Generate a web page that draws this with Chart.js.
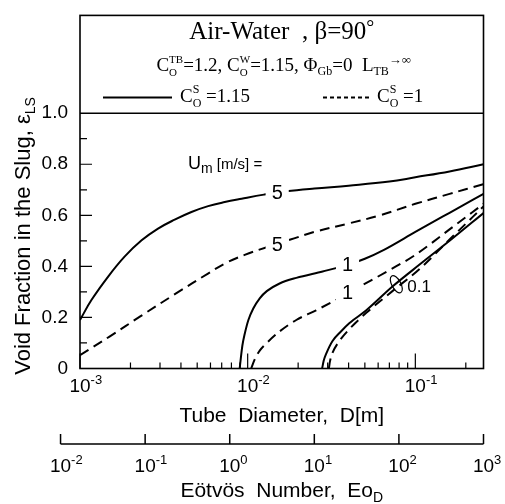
<!DOCTYPE html>
<html>
<head>
<meta charset="utf-8">
<script src="https://cdn.jsdelivr.net/npm/chart.js@4.4.0/dist/chart.umd.min.js"></script>
<style>
  html, body { margin: 0; padding: 0; background: #fff; }
</style>
</head>
<body>
<canvas id="voidChart" width="505" height="504"></canvas>
<script>
"use strict";

const SANS = '"Liberation Sans", Arial, sans-serif';
const SERIF = '"Liberation Serif", "Times New Roman", serif';
const ink = '#000';

// axis ranges: tube diameter D [m], Eötvös number, void fraction
const diamRange = [0.001, 0.255];
const eotvosRange = [0.01698, 1000];
const voidRange = [0, 1.383];
const voidTicks = [0, 0.2, 0.4, 0.6, 0.8, 1.0];
const diamDecades = [-3, -2, -1];
const eotvosDecades = [-2, -1, 0, 1, 2, 3];

// [D, eps_LS] ; solid C0S = 1.15, dashed C0S = 1
const um5Solid = [[0.001, 0.19], [0.00117, 0.268], [0.00148, 0.362], [0.00185, 0.439], [0.00233, 0.502],
  [0.00292, 0.548], [0.00367, 0.583], [0.00462, 0.613], [0.00581, 0.636], [0.0073, 0.652], [0.0092, 0.665],
  [0.0125, 0.681], [0.017, 0.694], [0.025, 0.705], [0.04, 0.716], [0.07, 0.732], [0.1, 0.749], [0.16, 0.772], [0.255, 0.80]];
const um5Dashed = [[0.001, 0.052], [0.0015, 0.125], [0.0023, 0.205], [0.0037, 0.292], [0.0058, 0.372],
  [0.0075, 0.415], [0.0096, 0.445], [0.013, 0.475], [0.018, 0.505], [0.025, 0.535], [0.04, 0.568],
  [0.06, 0.598], [0.1, 0.645], [0.16, 0.684], [0.255, 0.722]];
const um1Solid = [[0.00896, 0], [0.0091, 0.04], [0.0093, 0.09], [0.0096, 0.135], [0.0101, 0.19], [0.0108, 0.235],
  [0.0118, 0.275], [0.013, 0.303], [0.0155, 0.333], [0.0195, 0.355], [0.028, 0.38], [0.039, 0.405],
  [0.05, 0.43], [0.065, 0.465], [0.1, 0.535], [0.16, 0.61], [0.255, 0.684]];
const um1Dashed = [[0.0105, 0], [0.011, 0.035], [0.0118, 0.07], [0.013, 0.1], [0.0155, 0.145], [0.0195, 0.19],
  [0.0256, 0.228], [0.035, 0.275], [0.047, 0.322], [0.07, 0.385], [0.1, 0.445], [0.16, 0.545], [0.255, 0.645]];
const um01Solid = [[0.0278, 0], [0.0284, 0.03], [0.0295, 0.06], [0.032, 0.107], [0.036, 0.145], [0.0405, 0.178],
  [0.051, 0.228], [0.0733, 0.322], [0.106, 0.407], [0.16, 0.5], [0.255, 0.609]];
const um01Dashed = [[0.0305, 0], [0.031, 0.03], [0.032, 0.06], [0.035, 0.105], [0.0405, 0.155], [0.051, 0.218],
  [0.0733, 0.304], [0.106, 0.39], [0.16, 0.505], [0.255, 0.635]];

// Um labels sitting on the curves: [text, D, eps]
const curveLabels = [['5', 0.015, 0.69], ['5', 0.015, 0.485], ['1', 0.0394, 0.408], ['1', 0.0394, 0.298]];
const smallUmLabel = ['0.1', 0.077, 0.33];

// curves that start at eps = 0 use monotone splines, the others a plain tension spline
function series(points, dashed, fromZero) {
  return {
    data: points.map(([d, v]) => ({ x: d, y: v })),
    borderColor: ink,
    borderWidth: 2,
    borderDash: dashed ? [10, 6] : [],
    pointRadius: 0,
    cubicInterpolationMode: fromZero ? 'monotone' : 'default',
    tension: fromZero ? 0 : 0.4,
    fill: false
  };
}

function partWidth(ctx, p, fam) {
  ctx.font = `${p.s}px ${fam}`;
  if (p.t === undefined) {
    return Math.max(ctx.measureText(p.sub || '').width, ctx.measureText(p.sup || '').width);
  }
  return ctx.measureText(p.t).width;
}

// text made of runs with sub/superscripts
function drawRuns(ctx, parts, x, y, fam, align) {
  const total = parts.reduce((w, p) => w + partWidth(ctx, p, fam), 0);
  let cx = align === 'center' ? x - total / 2 : align === 'right' ? x - total : x;
  ctx.textAlign = 'left';
  ctx.textBaseline = 'alphabetic';
  parts.forEach(p => {
    const w = partWidth(ctx, p, fam);
    if (p.t !== undefined) ctx.fillText(p.t, cx, y + (p.dy || 0));
    if (p.sub) ctx.fillText(p.sub, cx, y + p.s * 0.4);
    if (p.sup) ctx.fillText(p.sup, cx, y - p.s * 0.75);
    cx += w;
  });
  return total;
}

function powerLabel(ctx, tickX, y, exp) {
  ctx.font = `19px ${SANS}`;
  const w10 = ctx.measureText('10').width;
  drawRuns(ctx, [{ t: '10', s: 19 }, { t: String(exp), s: 13, dy: -8 }], tickX - w10 / 2, y, SANS, 'left');
}

const decor = {
  id: 'decor',
  afterDatasetsDraw(chart) {
    const { ctx, chartArea: a, scales } = chart;
    const x = scales.x, y = scales.y, eo = scales.eo;
    ctx.save();
    ctx.fillStyle = ink;
    ctx.strokeStyle = ink;

    // curve labels cut into their lines
    ctx.font = `20px ${SANS}`;
    curveLabels.forEach(([t, d, v]) => {
      const px = x.getPixelForValue(d), py = y.getPixelForValue(v);
      const w = ctx.measureText(t).width;
      ctx.fillStyle = '#fff';
      ctx.fillRect(px - w / 2 - 6, py - 9, w + 12, 18);
      ctx.fillStyle = ink;
      ctx.textAlign = 'center';
      ctx.textBaseline = 'middle';
      ctx.fillText(t, px, py + 1);
    });

    // ellipse grouping the 0.1 m/s pair
    const ex = x.getPixelForValue(smallUmLabel[1]), ey = y.getPixelForValue(smallUmLabel[2]);
    ctx.lineWidth = 1.2;
    ctx.setLineDash([]);
    ctx.beginPath();
    ctx.ellipse(ex, ey, 4.5, 9.5, -0.5, 0, Math.PI * 2);
    ctx.stroke();
    ctx.font = `17px ${SANS}`;
    ctx.textAlign = 'left';
    ctx.textBaseline = 'middle';
    ctx.fillText(smallUmLabel[0], ex + 11, ey + 3);

    ctx.fillStyle = ink;
    drawRuns(ctx, [{ t: 'U', s: 18 }, { t: 'm', s: 14, dy: 4 }, { t: ' [m/s] =', s: 15 }],
      x.getPixelForValue(0.0044), y.getPixelForValue(0.78), SANS, 'left');

    // frame and the 1.0 divider
    ctx.lineWidth = 1.6;
    ctx.strokeRect(a.left, a.top, a.right - a.left, a.bottom - a.top);
    const y1 = y.getPixelForValue(1.0);
    ctx.beginPath();
    ctx.moveTo(a.left, y1);
    ctx.lineTo(a.right, y1);
    ctx.stroke();

    // inward ticks
    ctx.lineWidth = 1.2;
    ctx.beginPath();
    diamDecades.forEach(e => {
      for (let m = 1; m <= 9; m++) {
        const d = m * Math.pow(10, e);
        if (d > diamRange[1]) break;
        const px = x.getPixelForValue(d);
        ctx.moveTo(px, a.bottom);
        ctx.lineTo(px, a.bottom - (m === 1 ? 15 : 6));
      }
    });
    for (let k = 1; k <= 9; k++) {
      const py = y.getPixelForValue(k / 10);
      ctx.moveTo(a.left, py);
      ctx.lineTo(a.left + (k % 2 === 0 ? 12 : 7), py);
    }
    ctx.stroke();

    diamDecades.forEach(e => powerLabel(ctx, x.getPixelForValue(Math.pow(10, e)), a.bottom + 23.5, e));
    drawRuns(ctx, [{ t: 'Tube  Diameter,  D[m]', s: 21 }], (a.left + a.right) / 2, a.bottom + 53.5, SANS, 'center');

    // Eötvös number axis
    const eoY = a.bottom + 75.5;
    ctx.lineWidth = 1.5;
    ctx.beginPath();
    ctx.moveTo(eo.getPixelForValue(Math.pow(10, eotvosDecades[0])), eoY);
    ctx.lineTo(eo.getPixelForValue(Math.pow(10, eotvosDecades[eotvosDecades.length - 1])), eoY);
    eotvosDecades.forEach(e => {
      const px = eo.getPixelForValue(Math.pow(10, e));
      ctx.moveTo(px, eoY);
      ctx.lineTo(px, eoY - 10);
    });
    ctx.stroke();
    eotvosDecades.forEach(e => powerLabel(ctx, eo.getPixelForValue(Math.pow(10, e)), a.bottom + 103.5, e));
    drawRuns(ctx, [{ t: 'Eötvös  Number,  Eo', s: 21 }, { t: 'D', s: 14, dy: 5 }],
      (a.left + a.right) / 2, a.bottom + 128.5, SANS, 'center');

    // y title
    ctx.save();
    ctx.translate(30, 236);
    ctx.rotate(-Math.PI / 2);
    drawRuns(ctx, [{ t: 'Void Fraction in the Slug, ε', s: 22 }, { t: 'LS', s: 14, dy: 5 }], 0, 0, SANS, 'center');
    ctx.restore();

    // header block above 1.0
    const cx = (a.left + a.right) / 2;
    drawRuns(ctx, [{ t: 'Air-Water  , β=90', s: 25 }, { t: '°', s: 20, dy: -5 }], cx, a.top + 24, SERIF, 'center');
    drawRuns(ctx, [
      { t: 'C', s: 19 }, { sub: 'O', sup: 'TB', s: 11 }, { t: '=1.2, C', s: 19 }, { sub: 'O', sup: 'W', s: 11 },
      { t: '=1.15, Φ', s: 19 }, { t: 'Gb', s: 12, dy: 4 }, { t: '=0  L', s: 19 }, { t: 'TB', s: 12, dy: 4 },
      { t: '→∞', s: 13, dy: -7 }
    ], cx + 2, a.top + 56, SERIF, 'center');

    const legY = a.top + 82;
    ctx.lineWidth = 2;
    ctx.beginPath();
    ctx.moveTo(a.left + 23, legY);
    ctx.lineTo(a.left + 92, legY);
    ctx.stroke();
    ctx.setLineDash([4, 3]);
    ctx.beginPath();
    ctx.moveTo(a.left + 243, legY);
    ctx.lineTo(a.left + 292, legY);
    ctx.stroke();
    ctx.setLineDash([]);
    drawRuns(ctx, [{ t: 'C', s: 19 }, { sub: 'O', sup: 'S', s: 12 }, { t: ' =1.15', s: 19 }], a.left + 100, legY + 5, SERIF, 'left');
    drawRuns(ctx, [{ t: 'C', s: 19 }, { sub: 'O', sup: 'S', s: 12 }, { t: ' =1', s: 19 }], a.left + 297, legY + 5, SERIF, 'left');

    ctx.restore();
  }
};

Chart.defaults.font.family = SANS;
Chart.defaults.color = ink;

new Chart(document.getElementById('voidChart').getContext('2d'), {
  type: 'line',
  data: {
    datasets: [
      series(um5Solid, false, false), series(um5Dashed, true, false),
      series(um1Solid, false, true), series(um1Dashed, true, true),
      series(um01Solid, false, true), series(um01Dashed, true, true)
    ]
  },
  options: {
    responsive: false,
    animation: false,
    devicePixelRatio: 1,
    layout: { padding: { top: 11, right: 21.5, bottom: 135.5, left: 0 } },
    plugins: { legend: { display: false }, tooltip: { enabled: false } },
    scales: {
      x: { type: 'logarithmic', min: diamRange[0], max: diamRange[1], display: false },
      eo: { type: 'logarithmic', axis: 'x', position: 'bottom', min: eotvosRange[0], max: eotvosRange[1], display: false },
      y: {
        type: 'linear',
        min: voidRange[0],
        max: voidRange[1],
        afterFit: (s) => { s.width = 80; },
        afterBuildTicks: (s) => { s.ticks = voidTicks.map(v => ({ value: v })); },
        grid: { display: false },
        border: { display: false },
        ticks: {
          padding: 4,
          font: { size: 19 },
          color: ink,
          callback: (v) => (v === 0 ? '0' : Number(v).toFixed(1))
        }
      }
    }
  },
  plugins: [decor]
});
</script>
</body>
</html>
